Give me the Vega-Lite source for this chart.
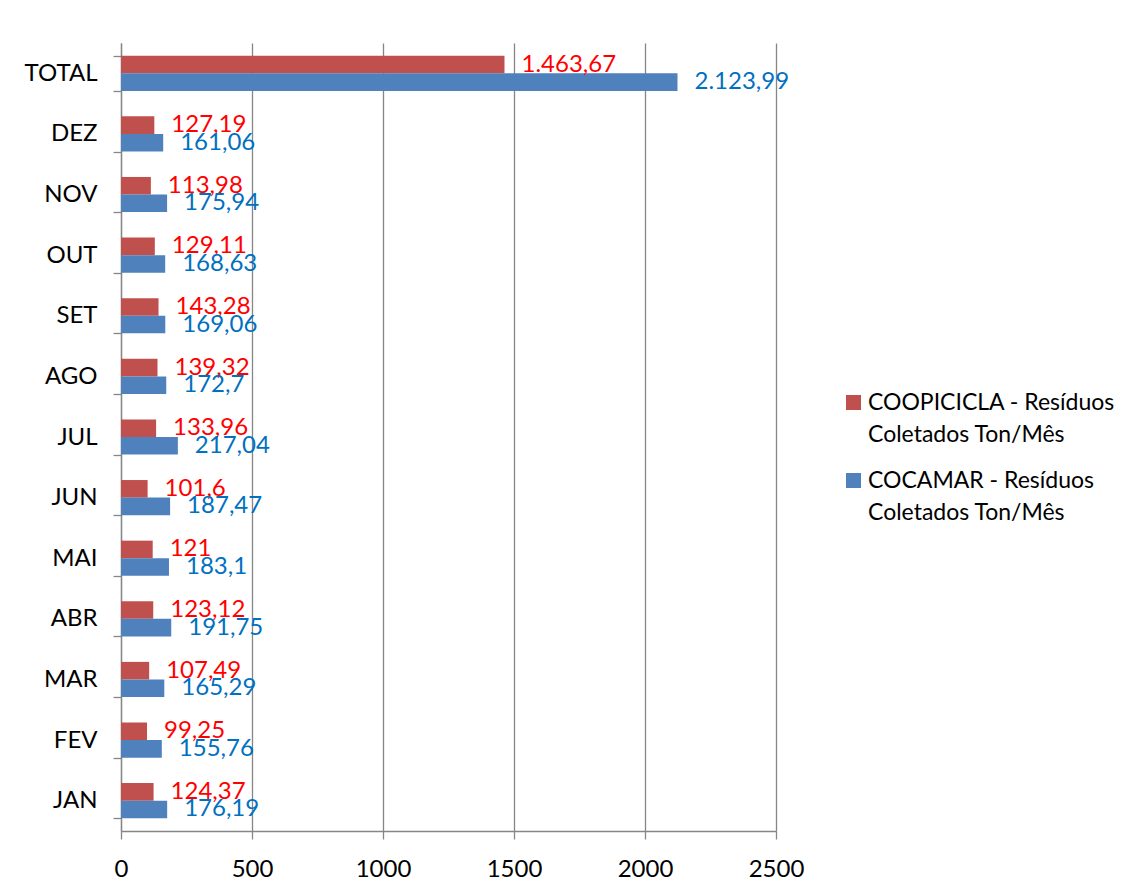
{
  "$schema": "https://vega.github.io/schema/vega-lite/v6.json",
  "autosize": "none",
  "padding": {"left": 121, "top": 43, "right": 355, "bottom": 58},
  "width": 655,
  "height": 788,
  "background": "white",
  "config": {
    "font": "Lato",
    "view": {"stroke": null},
    "axis": {"domainColor": "#868686", "tickColor": "#868686", "gridColor": "#868686", "labelFont": "Lato", "labelFontSize": 24, "labelColor": "#000000", "tickSize": 8, "domainWidth": 1.3, "gridWidth": 1.3, "tickWidth": 1.3}
  },
  "data": {
    "values": [
      {"mes": "JAN", "serie": "COOPICICLA - Resíduos Coletados Ton/Mês", "valor": 124.37, "rotulo": "124,37"},
      {"mes": "JAN", "serie": "COCAMAR - Resíduos Coletados Ton/Mês", "valor": 176.19, "rotulo": "176,19"},
      {"mes": "FEV", "serie": "COOPICICLA - Resíduos Coletados Ton/Mês", "valor": 99.25, "rotulo": "99,25"},
      {"mes": "FEV", "serie": "COCAMAR - Resíduos Coletados Ton/Mês", "valor": 155.76, "rotulo": "155,76"},
      {"mes": "MAR", "serie": "COOPICICLA - Resíduos Coletados Ton/Mês", "valor": 107.49, "rotulo": "107,49"},
      {"mes": "MAR", "serie": "COCAMAR - Resíduos Coletados Ton/Mês", "valor": 165.29, "rotulo": "165,29"},
      {"mes": "ABR", "serie": "COOPICICLA - Resíduos Coletados Ton/Mês", "valor": 123.12, "rotulo": "123,12"},
      {"mes": "ABR", "serie": "COCAMAR - Resíduos Coletados Ton/Mês", "valor": 191.75, "rotulo": "191,75"},
      {"mes": "MAI", "serie": "COOPICICLA - Resíduos Coletados Ton/Mês", "valor": 121, "rotulo": "121"},
      {"mes": "MAI", "serie": "COCAMAR - Resíduos Coletados Ton/Mês", "valor": 183.1, "rotulo": "183,1"},
      {"mes": "JUN", "serie": "COOPICICLA - Resíduos Coletados Ton/Mês", "valor": 101.6, "rotulo": "101,6"},
      {"mes": "JUN", "serie": "COCAMAR - Resíduos Coletados Ton/Mês", "valor": 187.47, "rotulo": "187,47"},
      {"mes": "JUL", "serie": "COOPICICLA - Resíduos Coletados Ton/Mês", "valor": 133.96, "rotulo": "133,96"},
      {"mes": "JUL", "serie": "COCAMAR - Resíduos Coletados Ton/Mês", "valor": 217.04, "rotulo": "217,04"},
      {"mes": "AGO", "serie": "COOPICICLA - Resíduos Coletados Ton/Mês", "valor": 139.32, "rotulo": "139,32"},
      {"mes": "AGO", "serie": "COCAMAR - Resíduos Coletados Ton/Mês", "valor": 172.7, "rotulo": "172,7"},
      {"mes": "SET", "serie": "COOPICICLA - Resíduos Coletados Ton/Mês", "valor": 143.28, "rotulo": "143,28"},
      {"mes": "SET", "serie": "COCAMAR - Resíduos Coletados Ton/Mês", "valor": 169.06, "rotulo": "169,06"},
      {"mes": "OUT", "serie": "COOPICICLA - Resíduos Coletados Ton/Mês", "valor": 129.11, "rotulo": "129,11"},
      {"mes": "OUT", "serie": "COCAMAR - Resíduos Coletados Ton/Mês", "valor": 168.63, "rotulo": "168,63"},
      {"mes": "NOV", "serie": "COOPICICLA - Resíduos Coletados Ton/Mês", "valor": 113.98, "rotulo": "113,98"},
      {"mes": "NOV", "serie": "COCAMAR - Resíduos Coletados Ton/Mês", "valor": 175.94, "rotulo": "175,94"},
      {"mes": "DEZ", "serie": "COOPICICLA - Resíduos Coletados Ton/Mês", "valor": 127.19, "rotulo": "127,19"},
      {"mes": "DEZ", "serie": "COCAMAR - Resíduos Coletados Ton/Mês", "valor": 161.06, "rotulo": "161,06"},
      {"mes": "TOTAL", "serie": "COOPICICLA - Resíduos Coletados Ton/Mês", "valor": 1463.67, "rotulo": "1.463,67"},
      {"mes": "TOTAL", "serie": "COCAMAR - Resíduos Coletados Ton/Mês", "valor": 2123.99, "rotulo": "2.123,99"}
    ]
  },
  "encoding": {
    "y": {
      "field": "mes", "type": "nominal",
      "sort": ["TOTAL", "DEZ", "NOV", "OUT", "SET", "AGO", "JUL", "JUN", "MAI", "ABR", "MAR", "FEV", "JAN"],
      "scale": {"paddingInner": 0.42, "paddingOuter": 0.21},
      "axis": {"title": null, "tickBand": "extent", "labelPadding": 16, "grid": false, "labelAlign": "right"}
    },
    "yOffset": {
      "field": "serie", "type": "nominal",
      "sort": ["COOPICICLA - Resíduos Coletados Ton/Mês", "COCAMAR - Resíduos Coletados Ton/Mês"],
      "scale": {"paddingInner": 0, "paddingOuter": 0}
    },
    "x": {
      "field": "valor", "type": "quantitative",
      "scale": {"domain": [0, 2500], "nice": false},
      "axis": {"title": null, "values": [0, 500, 1000, 1500, 2000, 2500], "format": "d", "grid": true, "labelPadding": 18, "labelFlush": false}
    }
  },
  "layer": [
    {
      "mark": {"type": "bar"},
      "encoding": {
        "color": {
          "field": "serie", "type": "nominal",
          "scale": {"domain": ["COOPICICLA - Resíduos Coletados Ton/Mês", "COCAMAR - Resíduos Coletados Ton/Mês"], "range": ["#C0504D", "#4F81BD"]},
          "legend": {
            "title": null, "orient": "none", "legendX": 721, "legendY": 348,
            "symbolType": "square", "symbolSize": 225, "symbolStrokeWidth": 0,
            "labelFont": "Lato", "labelFontSize": 23, "labelColor": "#000000", "labelLimit": 400,
            "labelExpr": "split(replace(datum.label, ' Coletados', '|Coletados'), '|')",
            "labelOffset": 3, "rowPadding": 22, "labelBaseline": "top",
            "encode": {"labels": {"update": {"dy": {"value": -11}, "lineHeight": {"value": 32}}}}
          }
        }
      }
    },
    {
      "mark": {"type": "text", "align": "left", "baseline": "middle", "dx": 17, "fontSize": 24, "font": "Lato"},
      "encoding": {
        "text": {"field": "rotulo"},
        "color": {
          "condition": {"test": "datum.serie === 'COOPICICLA - Resíduos Coletados Ton/Mês'", "value": "#FF0000"},
          "value": "#0070C0"
        }
      }
    }
  ]
}
